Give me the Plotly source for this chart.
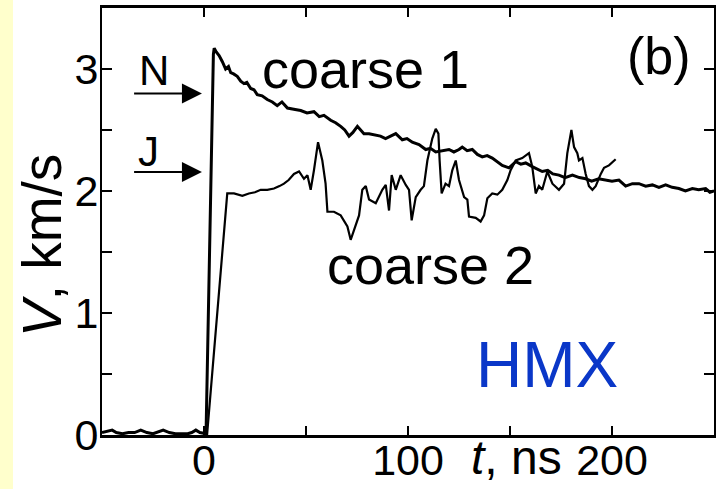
import plotly.graph_objects as go

# ---- data ----
c1_t = [-50, -47, -45, -43, -40, -37, -34, -31, -28, -25,
        -22, -20, -17, -14, -11, -8, -6, -4, -2, 0,
        1, 4.6, 5, 6, 7.4, 9, 10.6, 12, 13.1, 14.5,
        16.3, 18, 19.6, 21, 22.9, 24.5, 26.1, 28.5, 31, 33.5,
        35.9, 38.2, 40.9, 44, 47.4, 50.5, 53.9, 56.5, 58.8, 62.1,
        64.5, 67, 69, 71.1, 73, 75.2, 78.4, 80.9, 83.3, 86.5,
        89, 91.5, 94, 97.2, 99.5, 102.1, 105.4, 108.7, 111, 113.6,
        116.5, 120.1, 122.5, 125, 126.6, 129, 131.5, 134, 136.4, 138.8,
        141.3, 143.8, 146.2, 149.5, 152.8, 155.3, 157.7, 160.9, 163.5, 165.8,
        168.5, 171, 174, 177, 180.6, 184, 187.1, 190, 193.5, 196.9,
        200, 203.4, 206.7, 210, 213.2, 216.5, 219.8, 223, 226.3, 229.5,
        232.8, 236, 239.4, 242.5, 245.9, 248, 250]
c1_v = [0.02, 0.03, 0.04, 0.02, 0.01, 0.02, 0.02, 0.04, 0.02, 0.01,
        0.03, 0.04, 0.02, 0.01, 0.01, 0.01, 0.02, 0.04, 0.02, 0.01,
        0.01, 3.12, 3.17, 3.14, 3.11, 3.06, 3.00, 3.02, 2.97, 2.96,
        2.94, 2.90, 2.88, 2.89, 2.84, 2.83, 2.79, 2.78, 2.75, 2.73,
        2.70, 2.73, 2.68, 2.67, 2.66, 2.64, 2.65, 2.61, 2.62, 2.58,
        2.56, 2.53, 2.50, 2.45, 2.48, 2.53, 2.47, 2.47, 2.46, 2.45,
        2.43, 2.45, 2.47, 2.42, 2.43, 2.40, 2.38, 2.34, 2.35, 2.32,
        2.33, 2.34, 2.32, 2.34, 2.36, 2.33, 2.34, 2.30, 2.28, 2.29,
        2.27, 2.24, 2.21, 2.19, 2.24, 2.22, 2.23, 2.20, 2.18, 2.16,
        2.17, 2.14, 2.13, 2.11, 2.13, 2.11, 2.10, 2.08, 2.10, 2.09,
        2.08, 2.09, 2.04, 2.06, 2.06, 2.04, 2.05, 2.03, 2.05, 2.03,
        2.02, 2.00, 2.02, 2.01, 2.02, 1.99, 2.00]

c2_t = [0, 1.5, 11.4, 14.7, 18.8, 22, 25, 27.8, 31, 34.3,
        37, 39.2, 41.5, 44.1, 46.6, 49, 50.7, 52.3, 53.9, 55.9,
        58, 59.6, 60.5, 63.7, 67, 70.3, 71.9, 73.5, 76, 77.6,
        79.3, 80.9, 84.2, 87.4, 89.1, 90.7, 92, 94, 96.4, 98.9,
        100.5, 101.8, 103.8, 106.2, 107.8, 109.5, 111.9, 113.6, 114.9, 115.5,
        116.5, 118.4, 120.1, 121.7, 123.4, 125, 127.5, 129.1, 129.9, 133.2,
        135.6, 137.3, 138.9, 141.3, 143.8, 146.2, 148.7, 150.3, 152.8, 156,
        159.3, 160.9, 162.6, 164.2, 165.8, 168.3, 170.8, 174, 176.5, 178.1,
        180.1, 181.4, 183, 183.8, 185.5, 187.1, 188.7, 190.4, 192, 194.5,
        196.1, 198.5, 201.8]
c2_v = [0, 0, 1.98, 1.98, 1.96, 1.98, 1.99, 2.01, 2.01, 2.02,
        2.04, 2.06, 2.09, 2.14, 2.16, 2.10, 2.13, 2.01, 2.17, 2.40,
        2.25, 2.06, 1.83, 1.83, 1.80, 1.71, 1.60, 1.68, 1.80, 2.01,
        2.04, 1.93, 1.90, 2.01, 2.05, 1.84, 2.13, 2.01, 2.13, 2.05,
        2.01, 1.76, 1.95, 2.01, 2.04, 2.25, 2.43, 2.51, 2.47, 2.25,
        1.98, 2.06, 2.04, 2.17, 2.25, 2.09, 1.95, 1.93, 1.79, 1.78,
        1.75, 1.80, 1.94, 1.98, 1.97, 2.01, 2.09, 2.17, 2.25, 2.27,
        2.31, 2.20, 1.98, 2.04, 2.01, 2.16, 2.06, 2.01, 2.06, 2.31,
        2.50, 2.36, 2.31, 2.25, 2.27, 2.14, 2.04, 2.01, 2.04, 2.14,
        2.19, 2.21, 2.26]

assert len(c1_t) == len(c1_v), (len(c1_t), len(c1_v))
assert len(c2_t) == len(c2_v), (len(c2_t), len(c2_v))

x_tickvals = [0, 50, 100, 150, 200]
x_ticktext = ["0", "", "100", "", "200"]
y_tickvals = [0, 0.5, 1, 1.5, 2, 2.5, 3, 3.5]
y_ticktext = ["0", "", "1", "", "2", "", "3", ""]

FONT = "Arial, 'Liberation Sans', sans-serif"

fig = go.Figure()
fig.add_trace(go.Scatter(x=c1_t, y=c1_v, mode="lines",
                         line=dict(color="black", width=3), name="coarse 1"))
fig.add_trace(go.Scatter(x=c2_t, y=c2_v, mode="lines",
                         line=dict(color="black", width=2.2), name="coarse 2"))

W, H = 722, 489
L, R, T, B = 102, 8, 8, 54
pw, ph = W - L - R, H - T - B

fig.update_layout(
    width=W, height=H,
    margin=dict(l=L, r=R, t=T, b=B, autoexpand=False),
    paper_bgcolor="white", plot_bgcolor="white",
    showlegend=False,
    font=dict(family=FONT, color="black"),
    xaxis=dict(range=[-50, 250], tickvals=x_tickvals, ticktext=x_ticktext,
               ticks="inside", ticklen=9, tickwidth=2, tickcolor="black",
               showline=True, linecolor="black", linewidth=2.5, mirror="allticks",
               showgrid=False, zeroline=False, automargin=False,
               ticklabelstandoff=-14,
               tickfont=dict(size=43, family=FONT, color="black")),
    yaxis=dict(range=[0, 3.5], tickvals=y_tickvals, ticktext=y_ticktext,
               ticks="inside", ticklen=10, tickwidth=2, tickcolor="black",
               showline=True, linecolor="black", linewidth=2, mirror="allticks",
               showgrid=False, zeroline=False, automargin=False,
               ticklabelstandoff=-7,
               tickfont=dict(size=43, family=FONT, color="black")),
)

# yellow strip on the left
fig.add_shape(type="rect", xref="paper", yref="paper",
              x0=(0 - L) / pw, x1=(13 - L) / pw, y0=-B / ph - 0.05, y1=1 + T / ph + 0.05,
              fillcolor="#FFFFCC", line=dict(width=0), layer="below")

ann = []
ann.append(dict(text="coarse 1", x=79, y=3.0, xref="x", yref="y", showarrow=False,
                font=dict(size=54, family=FONT, color="black")))
ann.append(dict(text="coarse 2", x=111, y=1.39, xref="x", yref="y", showarrow=False,
                font=dict(size=54, family=FONT, color="black")))
ann.append(dict(text="(b)", x=223, y=3.11, xref="x", yref="y", showarrow=False,
                font=dict(size=52, family=FONT, color="black")))
ann.append(dict(text="HMX", x=168, y=0.57, xref="x", yref="y", showarrow=False,
                font=dict(size=64, family=FONT, color="#0A37C8")))
ann.append(dict(text="N", x=-24.5, y=2.99, xref="x", yref="y", showarrow=False,
                font=dict(size=42, family=FONT, color="black")))
ann.append(dict(text="J", x=-27, y=2.32, xref="x", yref="y", showarrow=False,
                font=dict(size=42, family=FONT, color="black")))
for yy in (2.80, 2.156):
    ann.append(dict(text="", x=-1, y=yy, ax=-35, ay=yy, xref="x", yref="y",
                    axref="x", ayref="y", showarrow=True, arrowhead=2,
                    arrowsize=2, arrowwidth=2, arrowcolor="black", standoff=0))
ann.append(dict(text="<i>t</i>, ns", x=153, y=0, xref="x", yref="paper",
                xanchor="center", yanchor="top", yshift=6, showarrow=False,
                font=dict(size=48, family=FONT, color="black")))
ann.append(dict(text="<i>V</i>, km/s", x=(42 - L) / pw, y=(435 - 246) / ph,
                xref="paper", yref="paper", xanchor="center", yanchor="middle",
                textangle=-90, showarrow=False,
                font=dict(size=55, family=FONT, color="black")))
fig.update_layout(annotations=ann)

fig.write_html("out.html")
